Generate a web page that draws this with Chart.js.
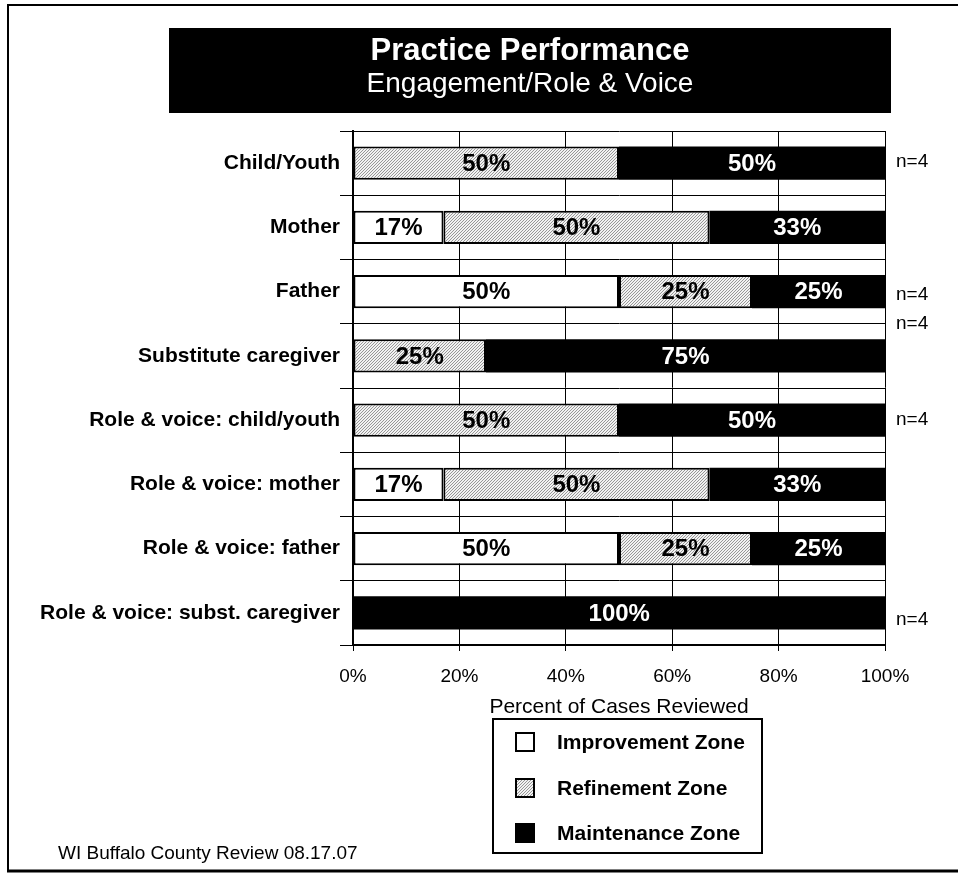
<!DOCTYPE html>
<html>
<head>
<meta charset="utf-8">
<script src="https://cdn.jsdelivr.net/npm/chart.js@4/dist/chart.umd.min.js"></script>
<style>
  html, body { margin: 0; padding: 0; background: #fff; }
  #wrap { width: 958px; height: 874px; }
</style>
</head>
<body>
<div id="wrap"><canvas id="c" width="958" height="874"></canvas></div>
<script>
// ---- Data ----
const categories = [
  'Child/Youth',
  'Mother',
  'Father',
  'Substitute caregiver',
  'Role & voice: child/youth',
  'Role & voice: mother',
  'Role & voice: father',
  'Role & voice: subst. caregiver'
];
const improvementZone = [0, 17, 50, 0, 0, 17, 50, 0];
const refinementZone  = [50, 50, 25, 25, 50, 50, 25, 0];
const maintenanceZone = [50, 33, 25, 75, 50, 33, 25, 100];
const nLabels = ['n=4', '', 'n=4', 'n=4', 'n=4', '', '', 'n=4'];
const xTickValues = [0, 20, 40, 60, 80, 100];
const seriesNames = ['Improvement Zone', 'Refinement Zone', 'Maintenance Zone'];
const chartTitle = 'Practice Performance';
const chartSubtitle = 'Engagement/Role & Voice';
const xAxisTitle = 'Percent of Cases Reviewed';
const footerText = 'WI Buffalo County Review 08.17.07';

// ---- Styles ----
const FONT = '"Liberation Sans", Arial, Helvetica, sans-serif';
function makeHatch() {
  const s = 3;
  const c = document.createElement('canvas');
  c.width = s; c.height = s;
  const g = c.getContext('2d');
  g.fillStyle = '#f2f2f2';
  g.fillRect(0, 0, s, s);
  g.strokeStyle = '#8c8c8c';
  g.lineWidth = 0.9;
  g.beginPath();
  g.moveTo(-1, s + 1); g.lineTo(s + 1, -1);
  g.moveTo(-1, 1); g.lineTo(1, -1);
  g.moveTo(s - 1, s + 1); g.lineTo(s + 1, s - 1);
  g.stroke();
  return g.createPattern(c, 'repeat');
}
const hatch = makeHatch();
const fills = ['#ffffff', hatch, '#000000'];
const labelColors = ['#000000', '#000000', '#ffffff'];
// vertical nudges of the n= notes, relative to row centre (px)
const nOffsets = [-1, 0, 3, -32, 0, 0, 0, 7];

const decorPlugin = {
  id: 'decor',
  beforeDraw(chart) {
    const ctx = chart.ctx;
    ctx.save();
    ctx.fillStyle = '#fff';
    ctx.fillRect(0, 0, chart.width, chart.height);
    // outer frame
    ctx.strokeStyle = '#000';
    ctx.lineWidth = 2;
    ctx.beginPath();
    ctx.moveTo(8, 871); ctx.lineTo(8, 5); ctx.lineTo(958, 5);
    ctx.stroke();
    ctx.lineWidth = 3;
    ctx.beginPath();
    ctx.moveTo(7, 871); ctx.lineTo(958, 871);
    ctx.stroke();
    // title box
    ctx.fillStyle = '#000';
    ctx.fillRect(169, 28, 722, 85);
    ctx.fillStyle = '#fff';
    ctx.textAlign = 'center';
    ctx.textBaseline = 'middle';
    ctx.font = 'bold 31px ' + FONT;
    ctx.fillText(chartTitle, 530, 51);
    ctx.font = '28px ' + FONT;
    ctx.fillText(chartSubtitle, 530, 84);
    ctx.restore();
  },
  afterDraw(chart) {
    const ctx = chart.ctx;
    ctx.save();
    // value labels
    ctx.textAlign = 'center';
    ctx.textBaseline = 'middle';
    ctx.font = 'bold 24px ' + FONT;
    chart.data.datasets.forEach((ds, di) => {
      const meta = chart.getDatasetMeta(di);
      meta.data.forEach((el, i) => {
        const v = ds.data[i];
        if (!v) return;
        ctx.fillStyle = labelColors[di];
        ctx.fillText(v + '%', (el.x + el.base) / 2, el.y + 1);
      });
    });
    // n= notes
    const yScale = chart.scales.y;
    ctx.textAlign = 'left';
    ctx.fillStyle = '#000';
    ctx.font = '19px ' + FONT;
    nLabels.forEach((t, i) => {
      if (!t) return;
      ctx.fillText(t, chart.chartArea.right + 11, yScale.getPixelForValue(i) + nOffsets[i]);
    });
    // legend box
    ctx.lineWidth = 2;
    ctx.strokeStyle = '#000';
    ctx.fillStyle = '#fff';
    ctx.fillRect(493, 719, 269, 134);
    ctx.strokeRect(493, 719, 269, 134);
    const rows = [742, 788, 833];
    ctx.font = 'bold 21px ' + FONT;
    chart.data.datasets.forEach((ds, di) => {
      const y = rows[di];
      ctx.fillStyle = ds.backgroundColor;
      ctx.fillRect(515, y - 10, 20, 20);
      ctx.lineWidth = 2;
      ctx.strokeStyle = '#000';
      ctx.strokeRect(516, y - 9, 18, 18);
      ctx.fillStyle = '#000';
      ctx.textAlign = 'left';
      ctx.fillText(ds.label, 557, y + 1);
    });
    // footer
    ctx.font = '19px ' + FONT;
    ctx.textAlign = 'left';
    ctx.fillText(footerText, 58, 854);
    ctx.restore();
  }
};

const datasets = [improvementZone, refinementZone, maintenanceZone].map((arr, i) => ({
  label: seriesNames[i],
  data: arr,
  backgroundColor: fills[i],
  borderColor: '#000',
  borderWidth: i === 2 ? 0 : 2,
  borderSkipped: false,
  barPercentage: 0.52,
  categoryPercentage: 1.0
}));

new Chart(document.getElementById('c'), {
  type: 'bar',
  data: { labels: categories, datasets },
  options: {
    indexAxis: 'y',
    responsive: false,
    animation: false,
    devicePixelRatio: 1,
    layout: { padding: { left: 0, top: 131, right: 73, bottom: 154.4 } },
    plugins: {
      legend: { display: false },
      title: { display: false },
      tooltip: { enabled: false }
    },
    scales: {
      x: {
        stacked: true,
        min: 0,
        max: 100,
        afterBuildTicks(scale) { scale.ticks = xTickValues.map(v => ({ value: v })); },
        afterFit(scale) { scale.height = 74.6; },
        ticks: {
          callback: v => v + '%',
          color: '#000',
          font: { family: FONT, size: 19 },
          padding: 14,
          maxRotation: 0
        },
        grid: { color: '#000', lineWidth: 1, tickLength: 6, drawTicks: true },
        border: { color: '#000', width: 2 },
        title: {
          display: true,
          text: xAxisTitle,
          color: '#000',
          font: { family: FONT, size: 21 },
          padding: { top: 0, bottom: 0 }
        }
      },
      y: {
        stacked: true,
        afterFit(scale) { scale.width = 353; },
        ticks: {
          color: '#000',
          font: { family: FONT, size: 21, weight: 'bold' },
          padding: 0
        },
        grid: { color: '#000', lineWidth: 1, tickLength: 13, offset: true, drawTicks: true },
        border: { color: '#000', width: 2 }
      }
    }
  },
  plugins: [decorPlugin]
});
</script>
</body>
</html>
